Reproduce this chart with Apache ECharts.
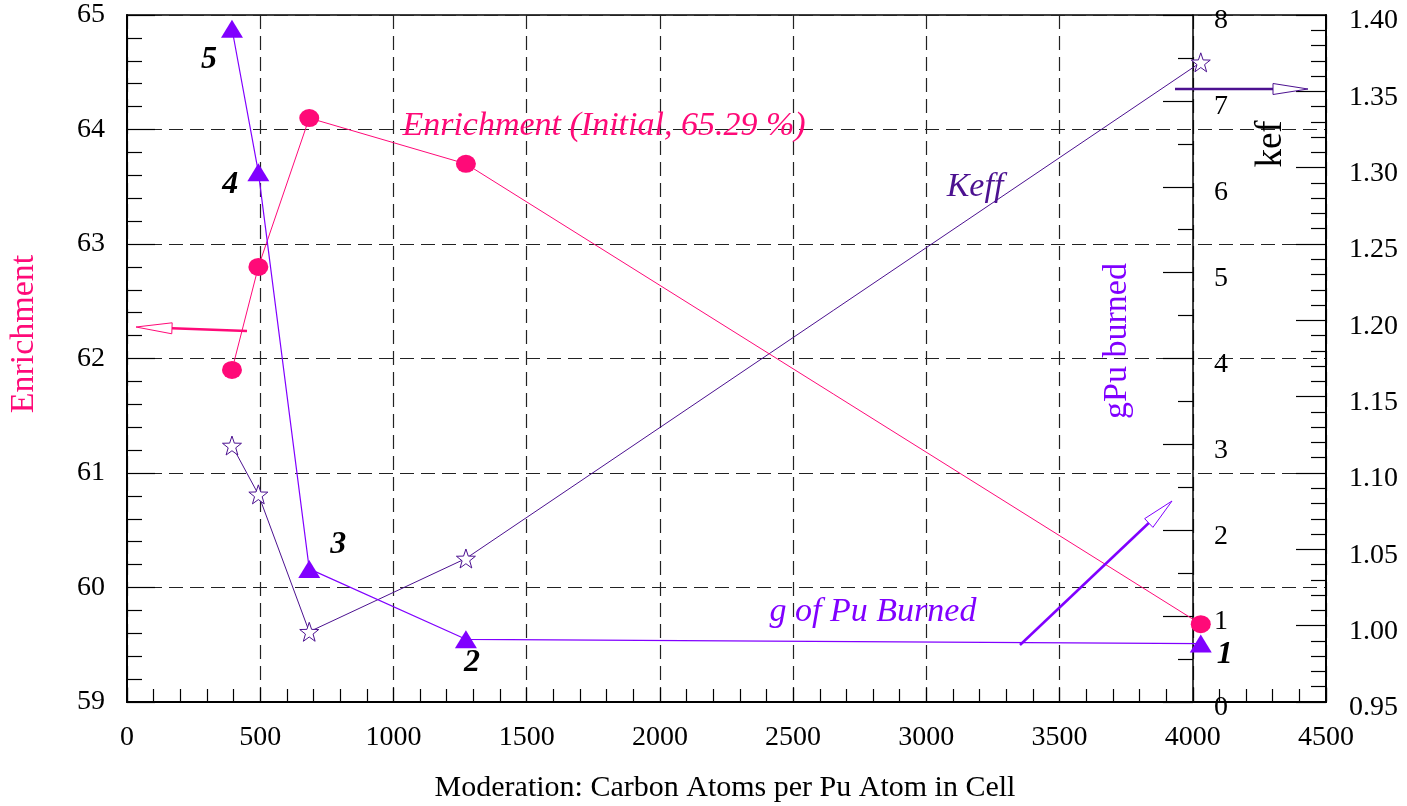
<!DOCTYPE html>
<html>
<head>
<meta charset="utf-8">
<script src="https://cdn.jsdelivr.net/npm/echarts@6/dist/echarts.min.js"></script>
<style>
html,body{margin:0;padding:0;background:#fff;}
#main{width:1407px;height:806px;}
</style>
</head>
<body>
<div id="main"></div>
<script>
// moderation (C atoms per Pu atom) for the five cells
var moderation = [394, 493, 684, 1272, 4030];
var enrichment = [61.9, 62.8, 64.1, 63.7, 59.68];
var puBurned = [7.84, 6.17, 1.55, 0.73, 0.68];
var keff = [1.118, 1.086, 0.996, 1.044, 1.369];
var cellLabels = ['5', '4', '3', '2', '1'];
var cellLabelOffsets = [[-23, 31], [-28, 13], [29, -24], [6, 23], [24, 11]];

var PINK = '#ff0a78';
var PURPLE = '#8000ff';
var DPURPLE = '#4c1190';
var FONT = '"Liberation Serif", "DejaVu Serif", serif';

function pairs(xs, ys){
    var out = [];
    for(var i = 0; i < xs.length; i++){ out.push([xs[i], ys[i]]); }
    return out;
}

var starPath = 'path://M0,-10L2.35,-3.24L9.51,-3.09L3.8,1.24L5.88,8.09L0,4L-5.88,8.09L-3.8,1.24L-9.51,-3.09L-2.35,-3.24Z';

// arrow: shaft from (x1,y1) toward tip, hollow head
function arrow(x1, y1, tx, ty, headLen, halfW, color, width){
    var dx = tx - x1, dy = ty - y1;
    var len = Math.sqrt(dx*dx + dy*dy);
    var ux = dx/len, uy = dy/len;
    var bx = tx - ux*headLen, by = ty - uy*headLen;
    var px = -uy, py = ux;
    return [{
        type: 'line',
        shape: {x1: x1, y1: y1, x2: bx, y2: by},
        style: {stroke: color, lineWidth: width},
        z: 50
    },{
        type: 'polygon',
        shape: {points: [[tx, ty], [bx + px*halfW, by + py*halfW], [bx - px*halfW, by - py*halfW]]},
        style: {fill: '#fff', stroke: color, lineWidth: 1},
        z: 50
    }];
}

function txt(x, y, s, color, size, opts){
    opts = opts || {};
    return {
        type: 'text',
        x: x, y: y,
        rotation: opts.rotation || 0,
        z: 40,
        style: {
            text: s,
            fill: color,
            font: (opts.italic ? 'italic ' : '') + (opts.bold ? 'bold ' : '') + size + 'px ' + FONT,
            textAlign: 'center',
            textVerticalAlign: 'middle'
        }
    };
}

var dashed = {show: true, lineStyle: {color: '#222', width: 1.2, type: [14, 7]}};
var labelFont = {color: '#000', fontSize: 28, fontFamily: FONT};
function plain(v){ return String(v); }
// right-hand labels sit a little below their ticks
var lowered = {lo: {padding: [12, 0, 0, 0], fontSize: 28, fontFamily: FONT, color: '#000'}};

var chart = echarts.init(document.getElementById('main'));

var option = {
    animation: false,
    backgroundColor: '#fff',
    grid: {left: 127, top: 15, right: 81, bottom: 104, show: true, borderColor: '#000', borderWidth: 1.5, backgroundColor: 'transparent'},
    xAxis: {
        type: 'value', min: 0, max: 4500, interval: 500,
        axisLine: {lineStyle: {color: '#000', width: 2}},
        axisTick: {inside: true, length: 14, lineStyle: {color: '#000', width: 1.2}},
        minorTick: {show: true, splitNumber: 5, length: 13, lineStyle: {color: '#000', width: 1.2}},
        splitLine: dashed,
        axisLabel: Object.assign({margin: 22, formatter: plain}, labelFont)
    },
    yAxis: [{
        type: 'value', min: 59, max: 65, interval: 1, position: 'left',
        axisLine: {show: true, lineStyle: {color: '#000', width: 2}},
        axisTick: {show: true, inside: true, length: 28, lineStyle: {color: '#000', width: 1.2}},
        minorTick: {show: true, splitNumber: 5, length: 15, lineStyle: {color: '#000', width: 1.2}},
        splitLine: dashed,
        axisLabel: Object.assign({margin: 22, formatter: plain}, labelFont)
    },{
        type: 'value', min: 0, max: 8, interval: 1, position: 'right', offset: -133,
        axisLine: {show: true, onZero: false, lineStyle: {color: '#000', width: 1.5}},
        axisTick: {show: true, inside: true, length: 30, lineStyle: {color: '#000', width: 1.2}},
        minorTick: {show: true, splitNumber: 2, length: 15, lineStyle: {color: '#000', width: 1.2}},
        splitLine: {show: false},
        axisLabel: Object.assign({margin: 21, rich: lowered, formatter: function(v){ return '{lo|' + v + '}'; }}, labelFont)
    },{
        type: 'value', min: 0.95, max: 1.40, interval: 0.05, position: 'right',
        axisLine: {show: true, onZero: false, lineStyle: {color: '#000', width: 2}},
        axisTick: {show: true, inside: true, length: 30, lineStyle: {color: '#000', width: 1.2}},
        minorTick: {show: true, splitNumber: 5, length: 15, lineStyle: {color: '#000', width: 1.2}},
        splitLine: {show: false},
        axisLabel: Object.assign({margin: 23, rich: lowered, formatter: function(v){ return '{lo|' + v.toFixed(2) + '}'; }}, labelFont)
    }],
    series: [{
        name: 'Enrichment',
        type: 'line',
        yAxisIndex: 0,
        data: pairs(moderation, enrichment),
        symbol: 'circle',
        symbolSize: [20, 18],
        lineStyle: {color: PINK, width: 1},
        itemStyle: {color: PINK},
        z: 5
    },{
        name: 'gPu burned',
        type: 'line',
        yAxisIndex: 1,
        data: pairs(moderation, puBurned).map(function(p, i){
            return {
                value: p,
                label: {
                    show: true,
                    position: 'inside',
                    offset: cellLabelOffsets[i],
                    formatter: cellLabels[i],
                    color: '#000',
                    fontSize: 32,
                    fontStyle: 'italic',
                    fontWeight: 'bold',
                    fontFamily: FONT
                }
            };
        }),
        symbol: 'triangle',
        symbolSize: [22, 18],
        lineStyle: {color: PURPLE, width: 1.2},
        itemStyle: {color: PURPLE},
        z: 6
    },{
        name: 'Keff',
        type: 'line',
        yAxisIndex: 2,
        data: pairs(moderation, keff),
        symbol: starPath,
        symbolSize: 19,
        lineStyle: {color: DPURPLE, width: 1},
        itemStyle: {color: '#fff', borderColor: DPURPLE, borderWidth: 1},
        z: 4
    }],
    graphic: [].concat(
        arrow(247, 331, 136, 327, 36, 5.5, PINK, 2.5),
        arrow(1175, 89, 1308, 89, 35, 5.5, DPURPLE, 2.5),
        arrow(1020, 645, 1172, 501, 32, 6, PURPLE, 2.5),
        [
            txt(604, 126, 'Enrichment (Initial, 65.29 %)', PINK, 34, {italic: true}),
            txt(975, 187, 'Keff', DPURPLE, 34, {italic: true}),
            txt(873, 612, 'g of Pu Burned', PURPLE, 34, {italic: true}),
            txt(24, 334, 'Enrichment', PINK, 34, {rotation: Math.PI/2}),
            txt(1117, 341, 'gPu burned', PURPLE, 34, {rotation: Math.PI/2}),
            txt(1271, 144, 'kef', '#000', 37, {rotation: Math.PI/2}),
            txt(725, 788, 'Moderation: Carbon Atoms per Pu Atom in Cell', '#000', 30)
        ]
    )
};

chart.setOption(option);
window.addEventListener('resize', chart.resize);
</script>
</body>
</html>
